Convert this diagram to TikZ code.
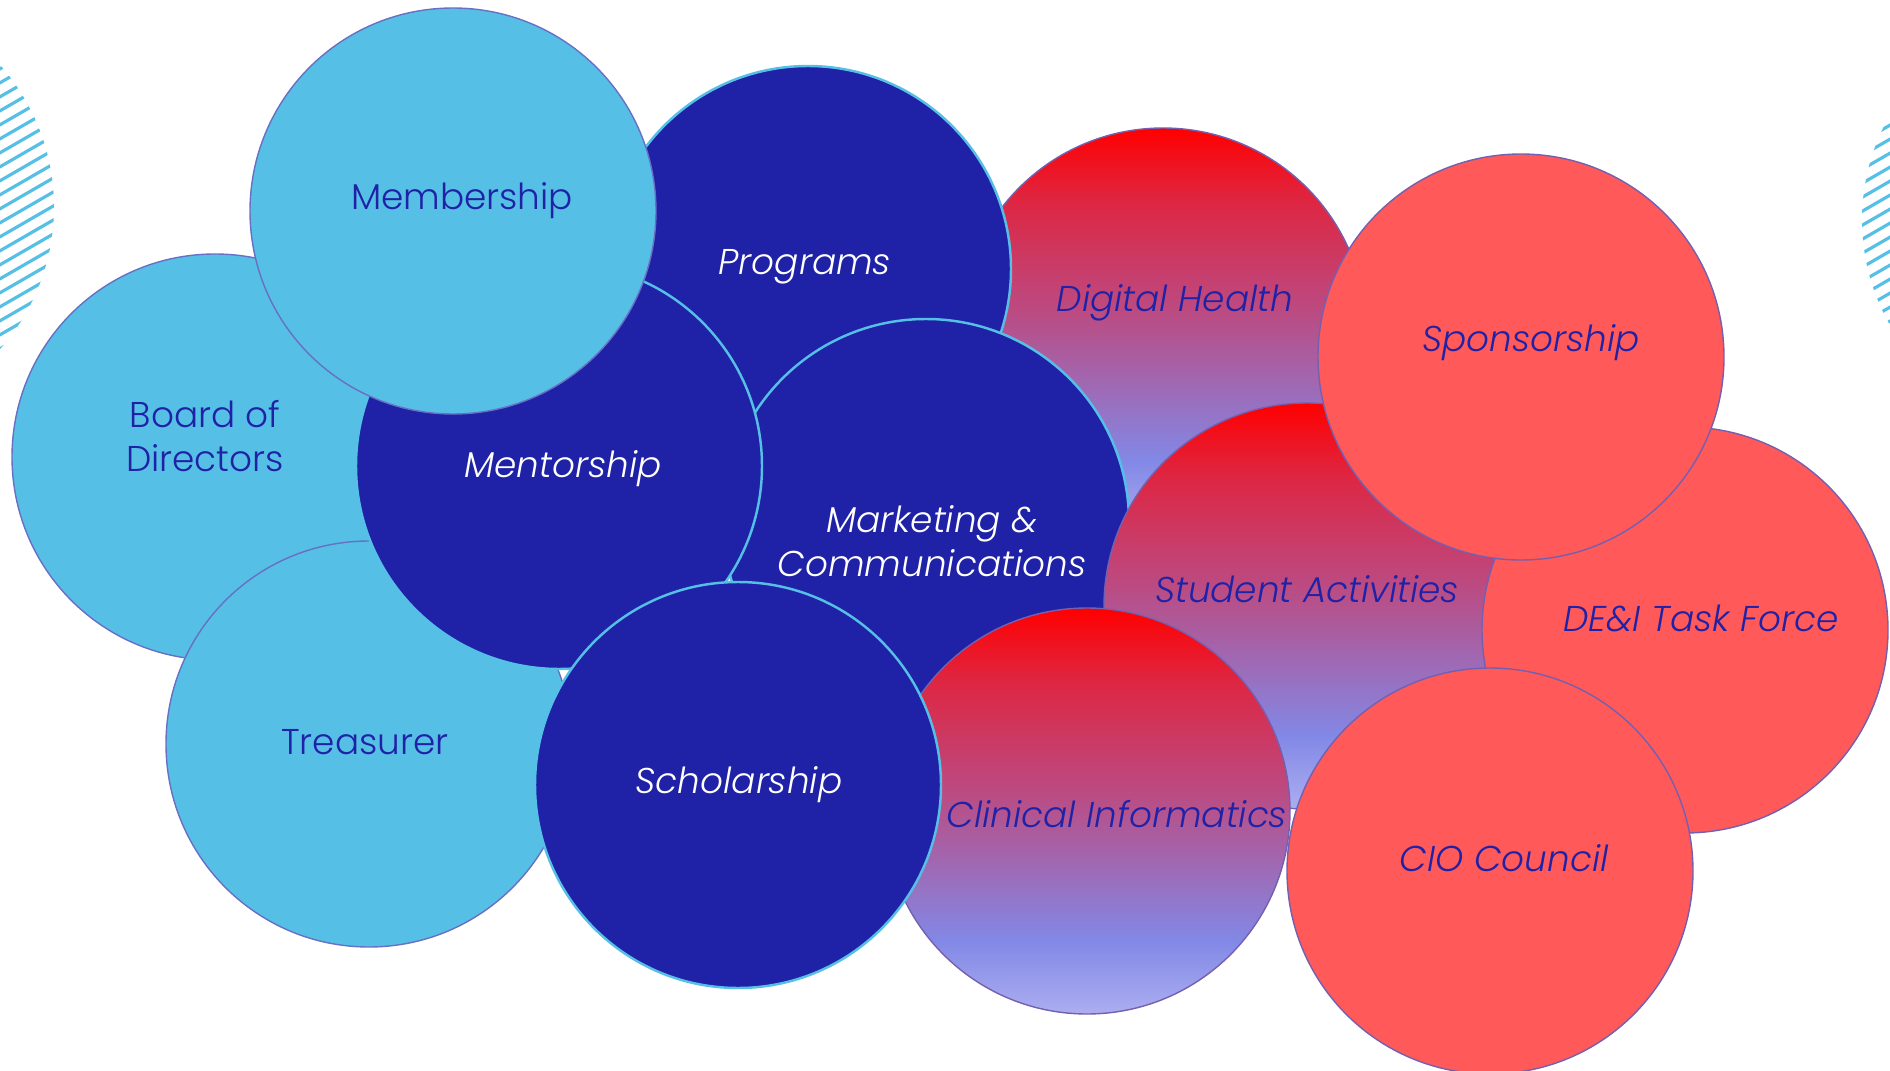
\documentclass[tikz,border=0pt]{standalone}
\usepackage{fontspec}
\setmainfont{Poppins Light}

\definecolor{skyblue}{RGB}{86,191,230}
\definecolor{navy}{RGB}{31,34,166}
\definecolor{coral}{RGB}{255,89,89}
\definecolor{rimblue}{RGB}{104,112,196}
\definecolor{rimpurple}{RGB}{116,96,176}
\definecolor{fadetop}{RGB}{255,0,0}
\definecolor{fadeupper}{RGB}{222,38,66}
\definecolor{fademid}{RGB}{186,76,132}
\definecolor{fadelow}{RGB}{130,136,230}
\definecolor{fadebot}{RGB}{172,174,240}

% red at the top, periwinkle at the bottom
\pgfdeclareverticalshading{redfade}{100bp}{color(0bp)=(fadebot); color(25bp)=(fadebot);
  color(34bp)=(fadelow); color(52bp)=(fademid); color(66bp)=(fadeupper);
  color(75bp)=(fadetop); color(100bp)=(fadetop)}

\tikzset{
  bubble/.style={circle, minimum size=4.06cm, inner sep=0pt},
  lightbubble/.style={bubble, fill=skyblue, draw=rimblue, line width=0.4pt},
  darkbubble/.style={bubble, fill=navy, draw=skyblue, line width=0.7pt},
  fadebubble/.style={bubble, shade, shading=redfade, draw=rimpurple, line width=0.4pt},
  coralbubble/.style={bubble, fill=coral, draw=rimpurple, line width=0.4pt},
  tag/.style={font=\fontsize{10.2}{12.7}\selectfont, align=center, text=navy},
  itag/.style={tag, font=\fontsize{10.2}{12.7}\selectfont\itshape},
  wtag/.style={itag, text=white},
  stripe/.style={draw=skyblue, line width=0.9pt}
}

\begin{document}
\begin{tikzpicture}
\useasboundingbox (0,0) rectangle (18.9,-10.71);

% hatching at the left and right edges
\begin{scope}
\clip (-1.6,-2.07) circle (2.14);
\foreach \k in {0,...,34}
  \draw[stripe] (-3,-0.6-0.14*\k) -- ++(30:4.5);
\end{scope}
\begin{scope}
\clip (20.73,-2.2) circle (2.11);
\foreach \k in {0,...,32}
  \draw[stripe] (17.5,-0.8-0.14*\k) -- ++(30:4.5);
\end{scope}

% bubbles, back to front
\node[fadebubble] (health) at (11.63,-3.31) {};
\node[itag] (healthtag) at (11.75,-3.03) {Digital Health};
\node[darkbubble] (programs) at (8.08,-2.69) {};
\node[wtag] (programstag) at (8.05,-2.67) {Programs};
\node[lightbubble] (board) at (2.15,-4.57) {};
\node[tag] (boardtag) at (2.05,-4.36) {Board of\\Directors};
\node[lightbubble] (treasurer) at (3.69,-7.44) {};
\node[tag] (treasurertag) at (3.65,-7.42) {Treasurer};
\node[darkbubble] (marketing) at (9.26,-5.22) {};
\node[wtag] (marketingtag) at (9.32,-5.41) {Marketing \&\\Communications};
\node[fadebubble] (students) at (13.07,-6.06) {};
\node[itag] (studentstag) at (13.07,-5.89) {Student Activities};
\node[coralbubble] (diversity) at (16.85,-6.30) {};
\node[itag] (diversitytag) at (17.01,-6.18) {DE\&I Task Force};
\node[coralbubble] (sponsors) at (15.21,-3.57) {};
\node[itag] (sponsorstag) at (15.31,-3.43) {Sponsorship};
\node[darkbubble] (mentors) at (5.59,-4.66) {};
\node[wtag] (mentorstag) at (5.63,-4.69) {Mentorship};
\node[lightbubble] (members) at (4.53,-2.11) {};
\node[tag] (memberstag) at (4.62,-2.01) {Membership};
\node[fadebubble] (clinical) at (10.87,-8.11) {};
\node[itag] (clinicaltag) at (11.17,-8.14) {Clinical Informatics};
\node[darkbubble] (scholars) at (7.38,-7.85) {};
\node[wtag] (scholarstag) at (7.39,-7.85) {Scholarship};
\node[coralbubble] (cio) at (14.90,-8.71) {};
\node[itag] (ciotag) at (15.04,-8.58) {CIO Council};
\end{tikzpicture}
\end{document}
